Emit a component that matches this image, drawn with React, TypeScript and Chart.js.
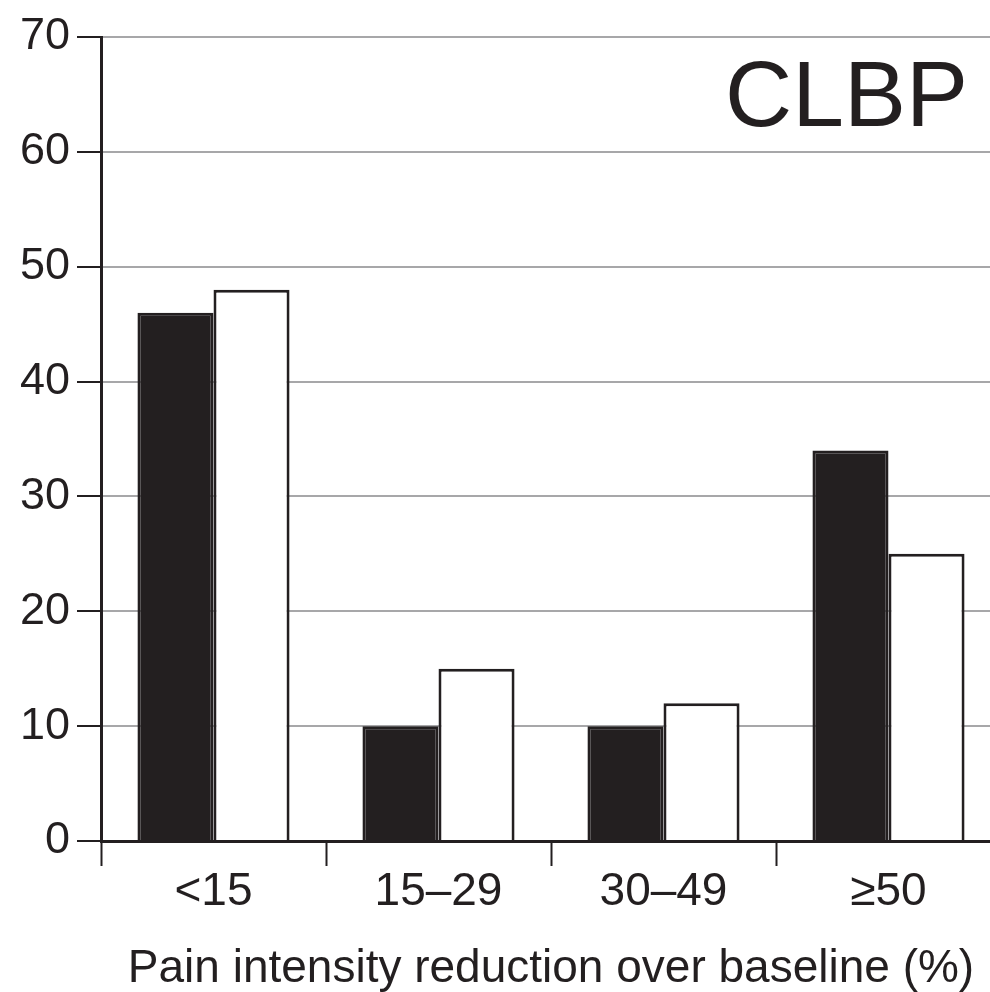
import React, { useEffect, useRef } from "react";
import { Chart, registerables } from "chart.js";

Chart.register(...registerables);

const categories = ["<15", "15–29", "30–49", "≥50"];
const seriesBlack = [46, 10, 10, 34];
const seriesWhite = [48, 15, 12, 25];
const yTicks = [0, 10, 20, 30, 40, 50, 60, 70];
const xAxisTitle = "Pain intensity reduction over baseline (%)";
const panelLabel = "CLBP";

const INK = "#231f20";
const GRID = "#a7a7a9";
const FONT = "'Liberation Sans', Arial, Helvetica, sans-serif";

const CANVAS_W = 1020;
const CANVAS_H = 992;

export default function App() {
  const ref = useRef<HTMLCanvasElement | null>(null);

  useEffect(() => {
    if (!ref.current) return;
    const labelPlugin = {
      id: "panelLabel",
      afterDraw(chart: any) {
        const ctx = chart.ctx;
        ctx.save();
        ctx.fillStyle = INK;
        ctx.font = `93px ${FONT}`;
        ctx.textAlign = "right";
        ctx.textBaseline = "alphabetic";
        ctx.fillText(panelLabel, 968, 126);
        ctx.restore();
      },
    };
    const chart = new Chart(ref.current, {
      type: "bar",
      data: {
        labels: categories,
        datasets: [
          {
            label: "Group 1",
            data: seriesBlack,
            backgroundColor: INK,
            borderColor: INK,
            borderWidth: 3,
            categoryPercentage: 0.676,
            barPercentage: 1,
          },
          {
            label: "Group 2",
            data: seriesWhite,
            backgroundColor: "#ffffff",
            borderColor: INK,
            borderWidth: 3,
            categoryPercentage: 0.676,
            barPercentage: 1,
          },
        ],
      },
      options: {
        responsive: false,
        animation: false,
        devicePixelRatio: 1,
        layout: { padding: { top: 37, left: 0, right: CANVAS_W - 1001, bottom: 0 } },
        plugins: { legend: { display: false }, tooltip: { enabled: false } },
        scales: {
          x: {
            offset: true,
            grid: {
              offset: true,
              drawOnChartArea: false,
              drawTicks: true,
              tickLength: 25,
              tickColor: INK,
              tickWidth: 2,
            },
            border: { color: INK, width: 3 },
            ticks: {
              color: INK,
              font: { family: FONT, size: 46 },
              padding: -1,
              maxRotation: 0,
            },
            title: {
              display: true,
              text: xAxisTitle,
              color: INK,
              font: { family: FONT, size: 46, lineHeight: 1.0 },
              padding: { top: 0, bottom: 0 },
            },
            afterFit(scale: any) {
              scale.height = CANVAS_H - 841;
            },
          },
          y: {
            min: 0,
            max: 70,
            afterBuildTicks(scale: any) {
              scale.ticks = yTicks.map((v) => ({ value: v }));
            },
            grid: {
              color: GRID,
              lineWidth: 2,
              drawTicks: true,
              tickLength: 24,
              tickColor: INK,
              tickWidth: 2,
            },
            border: { color: INK, width: 3 },
            ticks: {
              color: INK,
              font: { family: FONT, size: 45 },
              padding: 7,
            },
            afterFit(scale: any) {
              scale.width = 101;
            },
          },
        },
      },
      plugins: [labelPlugin],
    });
    return () => chart.destroy();
  }, []);

  return (
    <div
      style={{
        position: "fixed",
        left: 0,
        top: 0,
        width: 990,
        height: 992,
        overflow: "hidden",
        background: "#ffffff",
      }}
    >
      <canvas ref={ref} width={CANVAS_W} height={CANVAS_H} style={{ display: "block" }} />
    </div>
  );
}
